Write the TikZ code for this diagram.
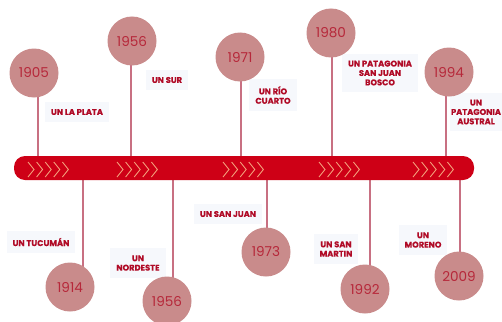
\documentclass[tikz,border=0pt]{standalone}
\usepackage{fontspec}
\setmainfont{Poppins}[BoldFeatures={FakeBold=0.35}]
\definecolor{barred}{RGB}{206,0,22}
\definecolor{chev}{RGB}{246,170,130}
\definecolor{dot}{RGB}{201,139,139}
\definecolor{yeartxt}{RGB}{182,40,58}
\definecolor{labtxt}{RGB}{176,10,38}
\definecolor{conn}{RGB}{200,112,130}
\definecolor{labbg}{RGB}{246,248,252}
\tikzset{
  yeardot/.style={circle, fill=dot, minimum size=49pt, inner sep=0pt, text=yeartxt, font=\fontsize{13.6}{14}\selectfont},
  labelbox/.style={fill=labbg, text=labtxt, font=\fontsize{8.3}{9.4}\selectfont\bfseries, align=center, inner xsep=6pt, inner ysep=7pt},
  connector/.style={draw=conn, line width=1.3pt},
  chevron/.style={draw=chev, line width=0.8pt}
}
\begin{document}
\begin{tikzpicture}[x=1pt,y=-1pt]
\useasboundingbox (0,0) rectangle (502,321);
\fill[white] (0,0) rectangle (502,321);
% bar anchor points for connectors
\coordinate (p1) at (38,168);
\coordinate (p2) at (131,168);
\coordinate (p3) at (241,168);
\coordinate (p4) at (332,168);
\coordinate (p5) at (446,168);
\coordinate (q1) at (83,168);
\coordinate (q2) at (173,168);
\coordinate (q3) at (267,168);
\coordinate (q4) at (370,168);
\coordinate (q5) at (460,168);
% circle positions
\coordinate (ct1) at (34,73);
\coordinate (ct2) at (132,41);
\coordinate (ct3) at (240,57);
\coordinate (ct4) at (331,33);
\coordinate (ct5) at (449,72);
\coordinate (cb1) at (70,287);
\coordinate (cb2) at (167,301);
\coordinate (cb3) at (266,252);
\coordinate (cb4) at (365,289);
\coordinate (cb5) at (459,276);
% labels (background boxes under connectors)
\node[labelbox] (l1) at (77,112) {UN LA PLATA};
\node[labelbox] (l2) at (167,80) {UN SUR};
\node[labelbox] (l3) at (273,95) {UN RÍO\\CUARTO};
\node[labelbox] (l4) at (380,73) {UN PATAGONIA\\SAN JUAN\\BOSCO};
\node[labelbox, inner xsep=1pt] (l5) at (476,112) {UN\\PATAGONIA\\AUSTRAL};
\node[labelbox] (l6) at (41,242) {UN TUCUMÁN};
\node[labelbox] (l7) at (138,263) {UN\\NORDESTE};
\node[labelbox] (l8) at (228,214) {UN SAN JUAN};
\node[labelbox] (l9) at (336,249) {UN SAN\\MARTIN};
\node[labelbox] (l10) at (423,240) {UN\\MORENO};
% connectors (under circles and bar)
\foreach \i in {1,...,5}{
  \draw[connector] (p\i |- ct\i) -- (p\i);
  \draw[connector] (q\i |- cb\i) -- (q\i);
}
% circles
\node[yeardot] (t1) at (ct1) {1905};
\node[yeardot] (t2) at (ct2) {1956};
\node[yeardot] (t3) at (ct3) {1971};
\node[yeardot] (t4) at (ct4) {1980};
\node[yeardot] (t5) at (ct5) {1994};
\node[yeardot] (b1) at (cb1) {1914};
\node[yeardot] (b2) at (cb2) {1956};
\node[yeardot] (b3) at (cb3) {1973};
\node[yeardot] (b4) at (cb4) {1992};
\node[yeardot] (b5) at (cb5) {2009};
% bar
\node[fill=barred, rounded corners=11pt, minimum width=460pt, minimum height=24pt, inner sep=0pt] (bar) at (244,168) {};
% chevrons
\foreach \gx in {28,117,223,319,413}{
  \foreach \k in {0,...,4}{
    \draw[chevron] ({\gx+\k*8.6},162) -- ({\gx+\k*8.6+6},169.5) -- ({\gx+\k*8.6},177);
  }
}
\end{tikzpicture}
\end{document}
